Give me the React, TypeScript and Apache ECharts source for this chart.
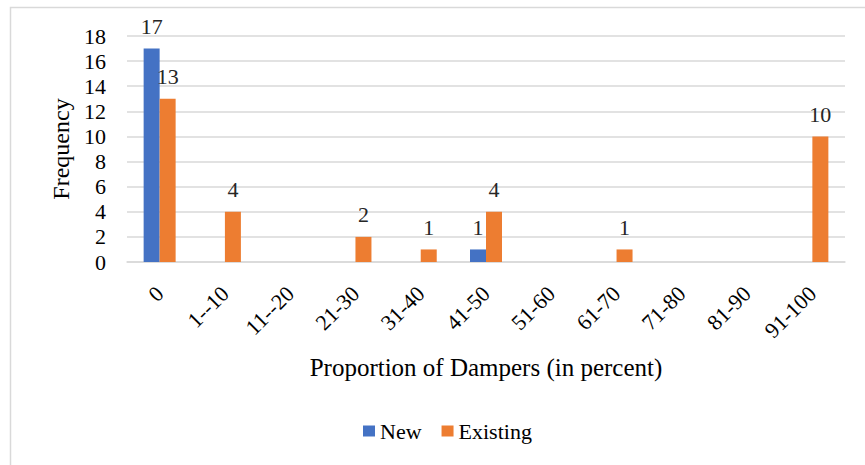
import React, { useEffect, useRef } from "react";
import * as echarts from "echarts";

const categories = ["0", "1--10", "11--20", "21-30", "31-40", "41-50", "51-60", "61-70", "71-80", "81-90", "91-100"];
const newValues = [17, 0, 0, 0, 0, 1, 0, 0, 0, 0, 0];
const existingValues = [13, 4, 0, 2, 1, 4, 0, 1, 0, 0, 10];
const yTicks = { min: 0, max: 18, interval: 2 };

const FONT = "Liberation Serif";

export default function App() {
  const ref = useRef<HTMLDivElement>(null);
  useEffect(() => {
    document.body.style.margin = "0";
    const chart = echarts.init(ref.current!, null, { renderer: "svg" });
    const label = {
      show: true,
      position: "top",
      distance: 11,
      fontFamily: FONT,
      fontSize: 22,
      color: "#262626",
      formatter: (p: any) => (p.value === 0 ? "" : String(p.value)),
    };
    chart.setOption({
      animation: false,
      backgroundColor: "#fff",
      textStyle: { fontFamily: FONT },
      graphic: [
        {
          type: "rect",
          shape: { x: 10.5, y: 7.5, width: 900, height: 500 },
          style: { fill: "none", stroke: "#d9d9d9", lineWidth: 1.5 },
          silent: true,
        },
      ],
      grid: { left: 127, right: 20, top: 36, bottom: 203, containLabel: false },
      legend: {
        top: 415,
        left: 358,
        itemWidth: 12,
        itemHeight: 11,
        itemGap: 20,
        icon: "rect",
        textStyle: { fontFamily: FONT, fontSize: 22, color: "#000" },
        data: ["New", "Existing"],
      },
      xAxis: {
        type: "category",
        data: categories,
        axisLine: { lineStyle: { color: "#d9d9d9", width: 1.5 } },
        axisTick: { show: false },
        axisLabel: { rotate: 45, margin: 28, fontFamily: FONT, fontSize: 22, color: "#000", interval: 0 },
        name: "Proportion of Dampers (in percent)",
        nameLocation: "middle",
        nameGap: 93,
        nameTextStyle: { fontFamily: FONT, fontSize: 25, color: "#000" },
      },
      yAxis: {
        type: "value",
        min: yTicks.min,
        max: yTicks.max,
        interval: yTicks.interval,
        axisLine: { show: false },
        axisTick: { show: false },
        splitLine: { lineStyle: { color: "#d9d9d9", width: 1.5 } },
        axisLabel: { margin: 21, fontFamily: FONT, fontSize: 22, color: "#000" },
        name: "Frequency",
        nameLocation: "middle",
        nameGap: 52,
        nameRotate: 90,
        nameTextStyle: { fontFamily: FONT, fontSize: 24, color: "#000" },
      },
      series: [
        {
          name: "New",
          type: "bar",
          data: newValues,
          barWidth: 16,
          barGap: "0%",
          itemStyle: { color: "#4472C4" },
          label,
        },
        {
          name: "Existing",
          type: "bar",
          data: existingValues,
          barWidth: 16,
          barGap: "0%",
          itemStyle: { color: "#ED7D31" },
          label,
        },
      ],
    });
    return () => chart.dispose();
  }, []);
  return <div ref={ref} style={{ width: 865, height: 465 }} />;
}
